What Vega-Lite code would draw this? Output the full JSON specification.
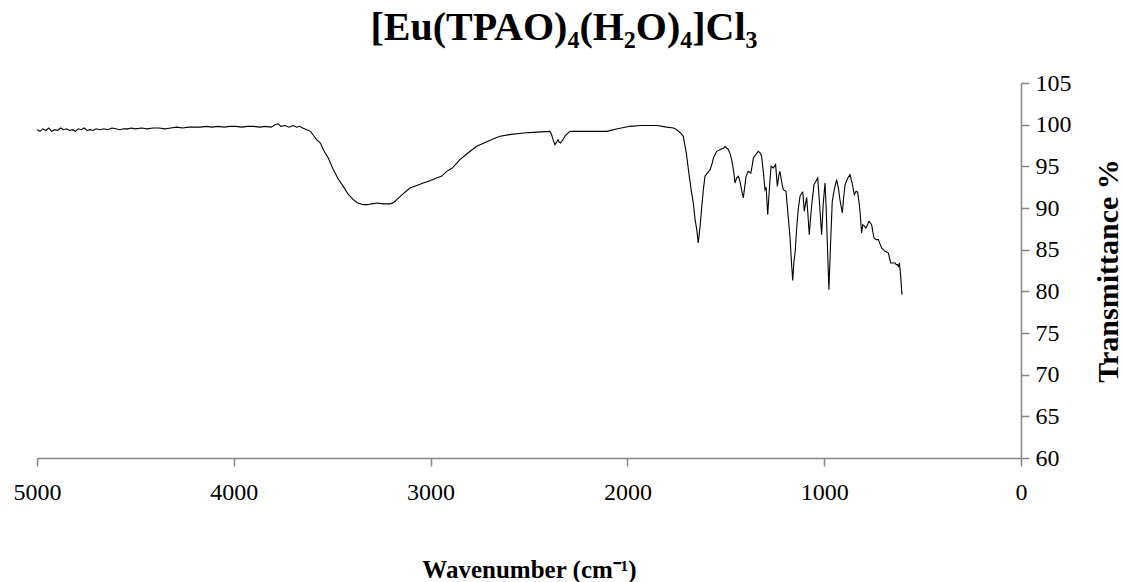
{
  "$schema": "https://vega.github.io/schema/vega-lite/v6.json",
  "width": 984,
  "height": 375,
  "autosize": {"type": "none"},
  "padding": {"left": 37, "top": 83, "right": 102, "bottom": 124},
  "background": "white",
  "title": {
    "text": "[Eu(TPAO)₄(H₂O)₄]Cl₃",
    "font": "Liberation Serif",
    "fontSize": 40,
    "fontWeight": "bold",
    "color": "black",
    "anchor": "middle",
    "baseline": "alphabetic",
    "dx": 35,
    "offset": -9
  },
  "data": {
    "values": [
      {"wavenumber": 5000, "transmittance": 99.4},
      {"wavenumber": 4985, "transmittance": 99.2},
      {"wavenumber": 4970, "transmittance": 99.5},
      {"wavenumber": 4955, "transmittance": 99.3},
      {"wavenumber": 4940, "transmittance": 99.6},
      {"wavenumber": 4925, "transmittance": 99.2},
      {"wavenumber": 4910, "transmittance": 99.4},
      {"wavenumber": 4895, "transmittance": 99.3},
      {"wavenumber": 4880, "transmittance": 99.6},
      {"wavenumber": 4865, "transmittance": 99.4},
      {"wavenumber": 4850, "transmittance": 99.5},
      {"wavenumber": 4835, "transmittance": 99.3},
      {"wavenumber": 4820, "transmittance": 99.4},
      {"wavenumber": 4805, "transmittance": 99.2},
      {"wavenumber": 4790, "transmittance": 99.5},
      {"wavenumber": 4775, "transmittance": 99.4},
      {"wavenumber": 4760, "transmittance": 99.6},
      {"wavenumber": 4745, "transmittance": 99.3},
      {"wavenumber": 4730, "transmittance": 99.4},
      {"wavenumber": 4715, "transmittance": 99.3},
      {"wavenumber": 4700, "transmittance": 99.5},
      {"wavenumber": 4680, "transmittance": 99.4},
      {"wavenumber": 4660, "transmittance": 99.5},
      {"wavenumber": 4640, "transmittance": 99.4},
      {"wavenumber": 4620, "transmittance": 99.6},
      {"wavenumber": 4600, "transmittance": 99.5},
      {"wavenumber": 4580, "transmittance": 99.4},
      {"wavenumber": 4560, "transmittance": 99.5},
      {"wavenumber": 4540, "transmittance": 99.5},
      {"wavenumber": 4520, "transmittance": 99.6},
      {"wavenumber": 4500, "transmittance": 99.5},
      {"wavenumber": 4470, "transmittance": 99.6},
      {"wavenumber": 4440, "transmittance": 99.5},
      {"wavenumber": 4410, "transmittance": 99.6},
      {"wavenumber": 4380, "transmittance": 99.6},
      {"wavenumber": 4350, "transmittance": 99.5},
      {"wavenumber": 4320, "transmittance": 99.6},
      {"wavenumber": 4290, "transmittance": 99.7},
      {"wavenumber": 4260, "transmittance": 99.6},
      {"wavenumber": 4230, "transmittance": 99.7},
      {"wavenumber": 4200, "transmittance": 99.7},
      {"wavenumber": 4170, "transmittance": 99.7},
      {"wavenumber": 4140, "transmittance": 99.8},
      {"wavenumber": 4110, "transmittance": 99.7},
      {"wavenumber": 4080, "transmittance": 99.8},
      {"wavenumber": 4050, "transmittance": 99.7},
      {"wavenumber": 4020, "transmittance": 99.8},
      {"wavenumber": 3990, "transmittance": 99.8},
      {"wavenumber": 3960, "transmittance": 99.7},
      {"wavenumber": 3930, "transmittance": 99.8},
      {"wavenumber": 3900, "transmittance": 99.8},
      {"wavenumber": 3870, "transmittance": 99.7},
      {"wavenumber": 3840, "transmittance": 99.8},
      {"wavenumber": 3810, "transmittance": 99.7},
      {"wavenumber": 3790, "transmittance": 100.0},
      {"wavenumber": 3775, "transmittance": 100.1},
      {"wavenumber": 3760, "transmittance": 99.8},
      {"wavenumber": 3740, "transmittance": 99.9},
      {"wavenumber": 3720, "transmittance": 99.7},
      {"wavenumber": 3700, "transmittance": 99.9},
      {"wavenumber": 3680, "transmittance": 99.7},
      {"wavenumber": 3665, "transmittance": 99.8},
      {"wavenumber": 3650, "transmittance": 99.6},
      {"wavenumber": 3630, "transmittance": 99.4},
      {"wavenumber": 3610, "transmittance": 99.2},
      {"wavenumber": 3595, "transmittance": 98.7},
      {"wavenumber": 3579, "transmittance": 98.2},
      {"wavenumber": 3560, "transmittance": 97.8},
      {"wavenumber": 3545, "transmittance": 97.0},
      {"wavenumber": 3520, "transmittance": 96.0},
      {"wavenumber": 3494, "transmittance": 94.6},
      {"wavenumber": 3470, "transmittance": 93.5},
      {"wavenumber": 3444, "transmittance": 92.6},
      {"wavenumber": 3420, "transmittance": 91.7},
      {"wavenumber": 3393, "transmittance": 91.0},
      {"wavenumber": 3370, "transmittance": 90.6},
      {"wavenumber": 3342, "transmittance": 90.4},
      {"wavenumber": 3320, "transmittance": 90.4},
      {"wavenumber": 3300, "transmittance": 90.5},
      {"wavenumber": 3270, "transmittance": 90.6},
      {"wavenumber": 3240, "transmittance": 90.5},
      {"wavenumber": 3206, "transmittance": 90.5},
      {"wavenumber": 3185, "transmittance": 90.7},
      {"wavenumber": 3172, "transmittance": 91.0},
      {"wavenumber": 3140, "transmittance": 91.7},
      {"wavenumber": 3105, "transmittance": 92.4},
      {"wavenumber": 3070, "transmittance": 92.7},
      {"wavenumber": 3037, "transmittance": 93.0},
      {"wavenumber": 3000, "transmittance": 93.3},
      {"wavenumber": 2970, "transmittance": 93.6},
      {"wavenumber": 2945, "transmittance": 93.8},
      {"wavenumber": 2918, "transmittance": 94.4},
      {"wavenumber": 2890, "transmittance": 94.8},
      {"wavenumber": 2851, "transmittance": 95.8},
      {"wavenumber": 2810, "transmittance": 96.6},
      {"wavenumber": 2766, "transmittance": 97.4},
      {"wavenumber": 2720, "transmittance": 97.9},
      {"wavenumber": 2680, "transmittance": 98.3},
      {"wavenumber": 2647, "transmittance": 98.6},
      {"wavenumber": 2600, "transmittance": 98.8},
      {"wavenumber": 2529, "transmittance": 99.0},
      {"wavenumber": 2460, "transmittance": 99.1},
      {"wavenumber": 2393, "transmittance": 99.2},
      {"wavenumber": 2385, "transmittance": 98.8},
      {"wavenumber": 2378, "transmittance": 98.2},
      {"wavenumber": 2368, "transmittance": 97.6},
      {"wavenumber": 2360, "transmittance": 97.9},
      {"wavenumber": 2353, "transmittance": 98.2},
      {"wavenumber": 2347, "transmittance": 97.9},
      {"wavenumber": 2340, "transmittance": 97.8},
      {"wavenumber": 2330, "transmittance": 98.1},
      {"wavenumber": 2315, "transmittance": 98.7},
      {"wavenumber": 2292, "transmittance": 99.2},
      {"wavenumber": 2200, "transmittance": 99.2},
      {"wavenumber": 2105, "transmittance": 99.2},
      {"wavenumber": 2050, "transmittance": 99.5},
      {"wavenumber": 1987, "transmittance": 99.8},
      {"wavenumber": 1930, "transmittance": 99.9},
      {"wavenumber": 1880, "transmittance": 99.9},
      {"wavenumber": 1851, "transmittance": 99.9},
      {"wavenumber": 1800, "transmittance": 99.7},
      {"wavenumber": 1765, "transmittance": 99.6},
      {"wavenumber": 1750, "transmittance": 99.4},
      {"wavenumber": 1730, "transmittance": 99.0},
      {"wavenumber": 1716, "transmittance": 98.6},
      {"wavenumber": 1700, "transmittance": 96.5},
      {"wavenumber": 1690, "transmittance": 94.6},
      {"wavenumber": 1675, "transmittance": 92.0},
      {"wavenumber": 1665, "transmittance": 90.6},
      {"wavenumber": 1656, "transmittance": 88.6},
      {"wavenumber": 1648, "transmittance": 87.5},
      {"wavenumber": 1640, "transmittance": 85.8},
      {"wavenumber": 1630, "transmittance": 88.0},
      {"wavenumber": 1622, "transmittance": 90.2},
      {"wavenumber": 1614, "transmittance": 92.2},
      {"wavenumber": 1606, "transmittance": 93.8},
      {"wavenumber": 1590, "transmittance": 94.3},
      {"wavenumber": 1580, "transmittance": 94.6},
      {"wavenumber": 1570, "transmittance": 95.3},
      {"wavenumber": 1563, "transmittance": 96.0},
      {"wavenumber": 1546, "transmittance": 96.8},
      {"wavenumber": 1521, "transmittance": 97.1},
      {"wavenumber": 1510, "transmittance": 97.2},
      {"wavenumber": 1504, "transmittance": 97.4},
      {"wavenumber": 1487, "transmittance": 97.0},
      {"wavenumber": 1478, "transmittance": 96.5},
      {"wavenumber": 1470, "transmittance": 95.8},
      {"wavenumber": 1460, "transmittance": 94.4},
      {"wavenumber": 1453, "transmittance": 93.0},
      {"wavenumber": 1445, "transmittance": 93.6},
      {"wavenumber": 1436, "transmittance": 93.8},
      {"wavenumber": 1428, "transmittance": 93.2},
      {"wavenumber": 1420, "transmittance": 92.2},
      {"wavenumber": 1411, "transmittance": 91.2},
      {"wavenumber": 1404, "transmittance": 92.5},
      {"wavenumber": 1397, "transmittance": 93.8},
      {"wavenumber": 1386, "transmittance": 94.4},
      {"wavenumber": 1373, "transmittance": 94.2},
      {"wavenumber": 1365, "transmittance": 95.2},
      {"wavenumber": 1360, "transmittance": 96.0},
      {"wavenumber": 1345, "transmittance": 96.5},
      {"wavenumber": 1335, "transmittance": 96.8},
      {"wavenumber": 1325, "transmittance": 96.6},
      {"wavenumber": 1318, "transmittance": 96.2},
      {"wavenumber": 1310, "transmittance": 94.5},
      {"wavenumber": 1301, "transmittance": 92.2},
      {"wavenumber": 1295, "transmittance": 92.5},
      {"wavenumber": 1287, "transmittance": 89.2},
      {"wavenumber": 1278, "transmittance": 92.5},
      {"wavenumber": 1270, "transmittance": 95.0},
      {"wavenumber": 1259, "transmittance": 94.8},
      {"wavenumber": 1247, "transmittance": 95.2},
      {"wavenumber": 1238, "transmittance": 92.6},
      {"wavenumber": 1230, "transmittance": 94.0},
      {"wavenumber": 1225, "transmittance": 94.4},
      {"wavenumber": 1215, "transmittance": 93.0},
      {"wavenumber": 1208, "transmittance": 92.2},
      {"wavenumber": 1194, "transmittance": 92.0},
      {"wavenumber": 1185, "transmittance": 89.5},
      {"wavenumber": 1174, "transmittance": 86.6},
      {"wavenumber": 1165, "transmittance": 83.0},
      {"wavenumber": 1160, "transmittance": 81.3},
      {"wavenumber": 1154, "transmittance": 83.5},
      {"wavenumber": 1148, "transmittance": 84.6},
      {"wavenumber": 1140, "transmittance": 87.5},
      {"wavenumber": 1132, "transmittance": 89.8},
      {"wavenumber": 1123, "transmittance": 91.4},
      {"wavenumber": 1114, "transmittance": 91.8},
      {"wavenumber": 1109, "transmittance": 91.9},
      {"wavenumber": 1101, "transmittance": 89.6},
      {"wavenumber": 1095, "transmittance": 90.5},
      {"wavenumber": 1089, "transmittance": 91.3},
      {"wavenumber": 1082, "transmittance": 89.0},
      {"wavenumber": 1076, "transmittance": 86.8},
      {"wavenumber": 1065, "transmittance": 90.0},
      {"wavenumber": 1052, "transmittance": 92.8},
      {"wavenumber": 1040, "transmittance": 93.3},
      {"wavenumber": 1033, "transmittance": 93.6},
      {"wavenumber": 1025, "transmittance": 91.0},
      {"wavenumber": 1018, "transmittance": 88.5},
      {"wavenumber": 1013, "transmittance": 86.8},
      {"wavenumber": 1005, "transmittance": 90.5},
      {"wavenumber": 996, "transmittance": 93.0},
      {"wavenumber": 990, "transmittance": 90.0},
      {"wavenumber": 983, "transmittance": 85.0},
      {"wavenumber": 976, "transmittance": 80.2},
      {"wavenumber": 968, "transmittance": 85.5},
      {"wavenumber": 959, "transmittance": 90.8},
      {"wavenumber": 948, "transmittance": 92.3},
      {"wavenumber": 937, "transmittance": 93.4},
      {"wavenumber": 928, "transmittance": 92.4},
      {"wavenumber": 920, "transmittance": 91.0},
      {"wavenumber": 908, "transmittance": 89.4},
      {"wavenumber": 900, "transmittance": 91.5},
      {"wavenumber": 894, "transmittance": 92.8},
      {"wavenumber": 880, "transmittance": 93.6},
      {"wavenumber": 869, "transmittance": 94.0},
      {"wavenumber": 858, "transmittance": 93.0},
      {"wavenumber": 847, "transmittance": 91.6},
      {"wavenumber": 838, "transmittance": 92.0},
      {"wavenumber": 830, "transmittance": 91.9},
      {"wavenumber": 822, "transmittance": 90.5},
      {"wavenumber": 818, "transmittance": 89.6},
      {"wavenumber": 810, "transmittance": 87.0},
      {"wavenumber": 804, "transmittance": 88.0},
      {"wavenumber": 795, "transmittance": 87.8},
      {"wavenumber": 788, "transmittance": 87.6},
      {"wavenumber": 780, "transmittance": 88.0},
      {"wavenumber": 772, "transmittance": 88.4},
      {"wavenumber": 765, "transmittance": 88.2},
      {"wavenumber": 759, "transmittance": 88.0},
      {"wavenumber": 752, "transmittance": 87.0},
      {"wavenumber": 747, "transmittance": 86.4},
      {"wavenumber": 735, "transmittance": 86.2},
      {"wavenumber": 725, "transmittance": 86.2},
      {"wavenumber": 715, "transmittance": 85.6},
      {"wavenumber": 708, "transmittance": 85.2},
      {"wavenumber": 700, "transmittance": 85.0},
      {"wavenumber": 691, "transmittance": 84.8},
      {"wavenumber": 680, "transmittance": 84.7},
      {"wavenumber": 674, "transmittance": 84.6},
      {"wavenumber": 668, "transmittance": 84.0},
      {"wavenumber": 662, "transmittance": 83.4},
      {"wavenumber": 652, "transmittance": 83.4},
      {"wavenumber": 640, "transmittance": 83.4},
      {"wavenumber": 634, "transmittance": 83.2},
      {"wavenumber": 628, "transmittance": 83.2},
      {"wavenumber": 622, "transmittance": 83.0},
      {"wavenumber": 618, "transmittance": 83.4},
      {"wavenumber": 612, "transmittance": 82.0},
      {"wavenumber": 605, "transmittance": 79.6}
    ]
  },
  "mark": {"type": "line", "color": "black", "strokeWidth": 1.1, "interpolate": "linear"},
  "encoding": {
    "x": {
      "field": "wavenumber",
      "type": "quantitative",
      "scale": {"domain": [0, 5000], "reverse": true, "nice": false, "zero": false},
      "axis": {
        "values": [0, 1000, 2000, 3000, 4000, 5000],
        "format": "d",
        "grid": false,
        "domainColor": "#868686",
        "domainWidth": 1.5,
        "tickColor": "#868686",
        "tickWidth": 1.5,
        "tickSize": 8,
        "labelFont": "Liberation Serif",
        "labelFontSize": 24,
        "labelColor": "black",
        "labelPadding": 14,
        "labelFlush": false,
        "title": "Wavenumber (cm⁻¹)",
        "titleFont": "Liberation Serif",
        "titleFontSize": 25,
        "titleFontWeight": "bold",
        "titleColor": "black",
        "titlePadding": 53
      }
    },
    "y": {
      "field": "transmittance",
      "type": "quantitative",
      "scale": {"domain": [60, 105], "nice": false, "zero": false},
      "axis": {
        "orient": "right",
        "values": [60, 65, 70, 75, 80, 85, 90, 95, 100, 105],
        "format": "d",
        "grid": false,
        "domainColor": "#868686",
        "domainWidth": 1.5,
        "tickColor": "#868686",
        "tickWidth": 1.5,
        "tickSize": 8,
        "labelFont": "Liberation Serif",
        "labelFontSize": 24,
        "labelColor": "black",
        "labelPadding": 6,
        "labelFlush": false,
        "title": "Transmittance %",
        "titleFont": "Liberation Serif",
        "titleFontSize": 30,
        "titleFontWeight": "bold",
        "titleColor": "black",
        "titleAngle": 270,
        "titleBaseline": "top",
        "titlePadding": 22
      }
    }
  },
  "config": {"view": {"stroke": null}}
}
